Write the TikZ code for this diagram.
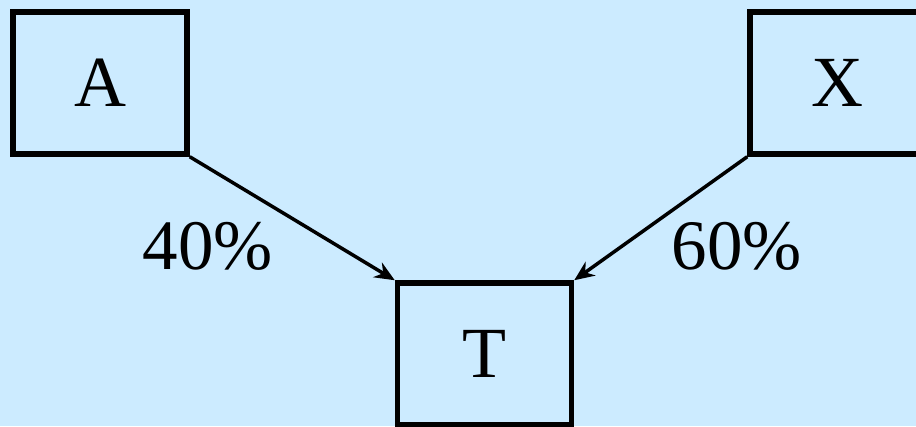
\documentclass[tikz,border=0pt]{standalone}
\usepackage{fontspec}
\setmainfont{Liberation Serif}
\usetikzlibrary{arrows.meta}
\definecolor{bgblue}{HTML}{CCEBFF}
\begin{document}
\begin{tikzpicture}[x=1pt,y=1pt,
  box/.style={draw=black,line width=5.5pt,minimum width=174pt,minimum height=142pt,inner sep=0pt,
    font=\fontsize{72}{86}\selectfont},
  conn/.style={line width=3.5pt,-{Stealth[length=20pt,width=17pt]}},
  pct/.style={anchor=base,inner sep=0pt,font=\fontsize{71}{86}\selectfont}]
\fill[bgblue] (0,0) rectangle (916,426);
\useasboundingbox (0,0) rectangle (916,426);
\node[box] (A) at (100,343) {A};
\node[box] (X) at (837,343) {X};
\node[box] (T) at (484.5,72) {T};
\draw[conn] (A.south east) -- (T.north west);
\draw[conn] (X.south west) -- (T.north east);
\node[pct] (p40) at (208,156) {40\%};
\node[pct] (p60) at (737,156) {60\%};
\end{tikzpicture}
\end{document}
